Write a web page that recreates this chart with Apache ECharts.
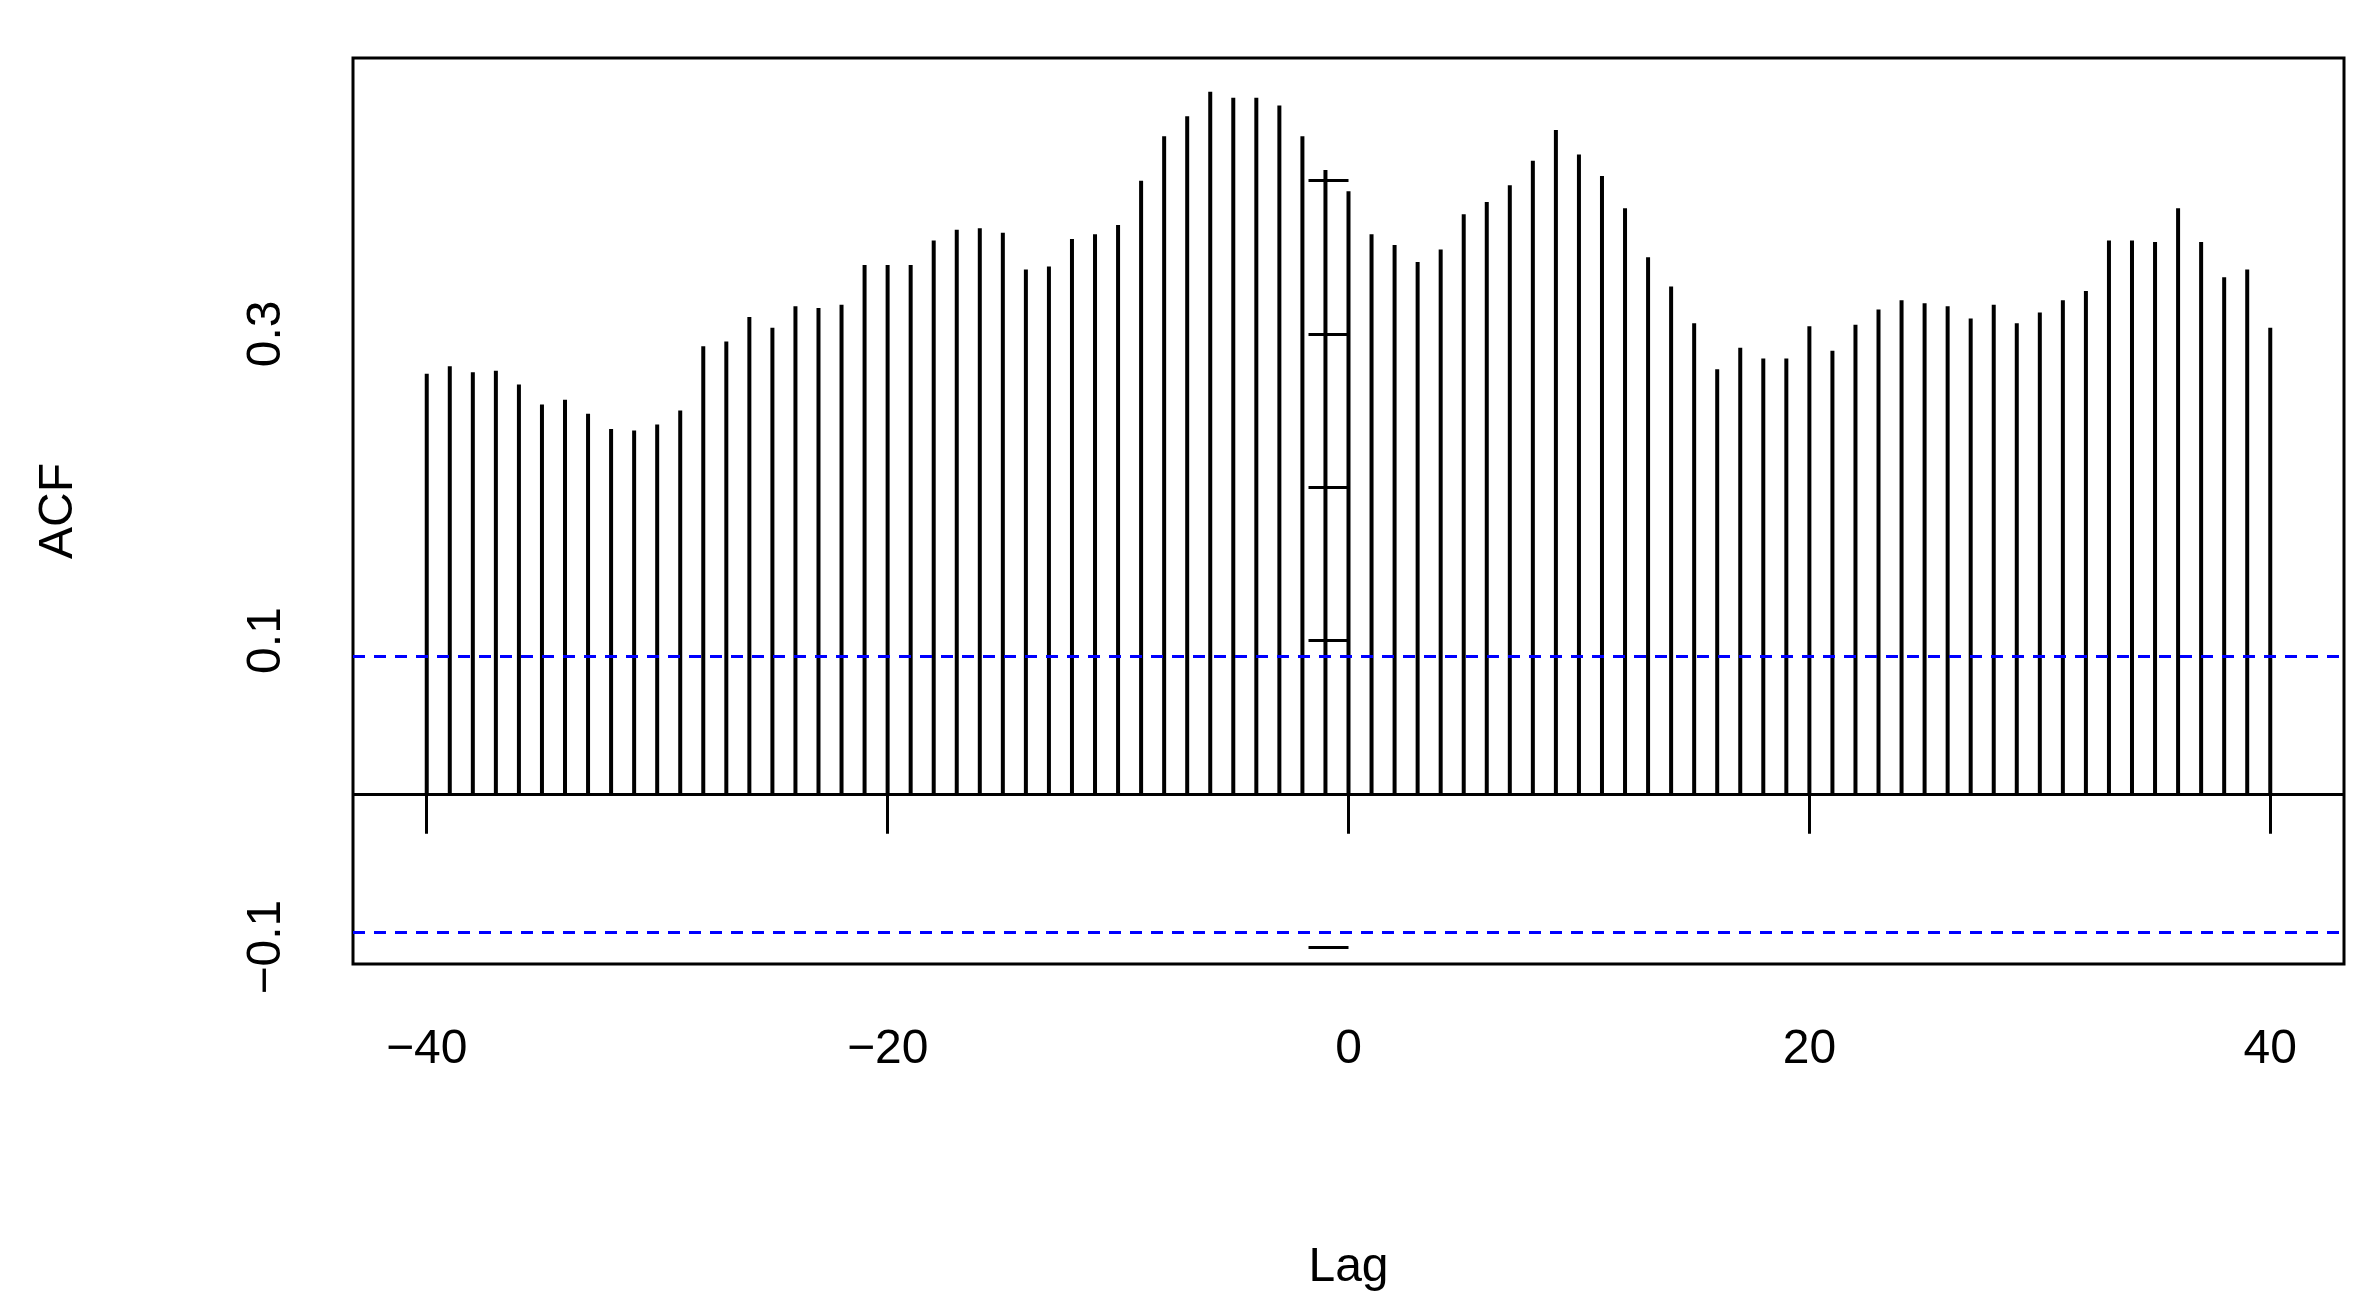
<!DOCTYPE html>
<html><head><meta charset="utf-8">
<script src="https://cdn.jsdelivr.net/npm/echarts@6/dist/echarts.min.js"></script>
<style>html,body{margin:0;background:#fff}#chart{width:2375px;height:1314px}</style>
</head><body><div id="chart"></div>
<script>
// ACF values, lags -40..40
const lags = [];
for (let k = -40; k <= 40; k++) lags.push(k);
const acf = [
  0.274, 0.279, 0.275, 0.276, 0.267, 0.254, 0.257, 0.248, 0.238, 0.237,
  0.241, 0.250, 0.292, 0.295, 0.311, 0.304, 0.318, 0.317, 0.319, 0.345,
  0.345, 0.345, 0.361, 0.368, 0.369, 0.366, 0.342, 0.344, 0.362, 0.365,
  0.371, 0.400, 0.429, 0.442, 0.458, 0.454, 0.454, 0.449, 0.429, 0.407,
  0.393,
  0.365, 0.358, 0.347, 0.355, 0.378, 0.386, 0.397, 0.413, 0.433, 0.417,
  0.403, 0.382, 0.350, 0.331, 0.307, 0.277, 0.291, 0.284, 0.284, 0.305,
  0.289, 0.306, 0.316, 0.322, 0.320, 0.318, 0.310, 0.319, 0.307, 0.314,
  0.322, 0.328, 0.361, 0.361, 0.360, 0.382, 0.360, 0.337, 0.342, 0.304
];
const ciBound = 0.09;
const xTicks = [-40, -20, 0, 20, 40];
const yTicks = [-0.1, 0, 0.1, 0.2, 0.3, 0.4];
const yLabels = [-0.1, 0.1, 0.3];

const font = 'Liberation Sans, Arial, sans-serif';
const chart = echarts.init(document.getElementById('chart'));
chart.setOption({
    animation: false,
    grid: { left: 353, right: 31, top: 58, bottom: 350, show: true, borderColor: '#000', borderWidth: 3 },
    xAxis: {
        type: 'value', min: -43.2, max: 43.2,
        name: 'Lag', nameLocation: 'middle', nameGap: 280,
        nameTextStyle: { fontFamily: font, fontSize: 48, color: '#000' },
        axisLine: { show: false },
        splitLine: { show: false },
        axisTick: { show: true, length: 40, lineStyle: { color: '#000', width: 3 }, customValues: xTicks },
        axisLabel: { fontFamily: font, fontSize: 48, color: '#000', margin: 62, customValues: xTicks,
            formatter: v => String(v).replace('-', '\u2212') }
    },
    yAxis: {
        type: 'value', min: -0.111, max: 0.48,
        name: 'ACF', nameLocation: 'middle', nameGap: 270, nameRotate: 90,
        nameTextStyle: { fontFamily: font, fontSize: 48, color: '#000' },
        axisLine: { show: false },
        splitLine: { show: false },
        axisTick: { show: true, length: 40, lineStyle: { color: '#000', width: 3 }, customValues: yTicks },
        axisLabel: { fontFamily: font, fontSize: 48, color: '#000', margin: 62, rotate: 90,
            customValues: yLabels,
            formatter: v => String(Math.round(v * 10) / 10).replace('-', '\u2212') }
    },
    series: [{
        type: 'bar',
        barWidth: 4,
        itemStyle: { color: '#000' },
        data: lags.map((k, i) => [k, acf[i]]),
        markLine: {
            silent: true, symbol: 'none', label: { show: false },
            data: [
                { yAxis: 0, lineStyle: { color: '#000', type: 'solid', width: 3 } },
                { yAxis: ciBound, lineStyle: { color: '#0000ff', type: [12, 9], width: 3 } },
                { yAxis: -ciBound, lineStyle: { color: '#0000ff', type: [12, 9], width: 3 } }
            ]
        }
    }]
});
</script>
</body></html>
